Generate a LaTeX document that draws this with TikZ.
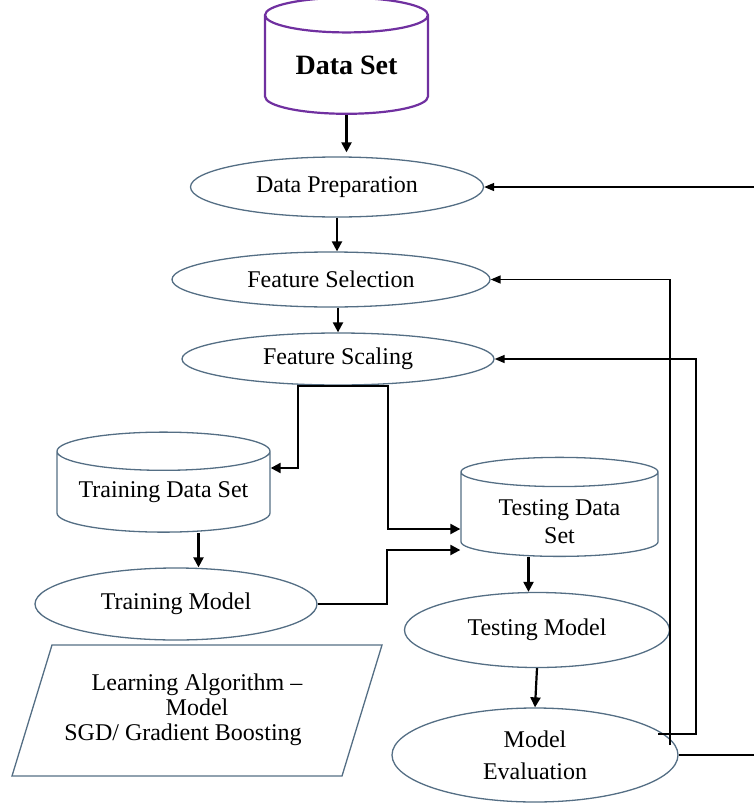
\documentclass[tikz,border=0pt]{standalone}
\usepackage{fontspec}
\setmainfont{Liberation Serif}
\usetikzlibrary{arrows.meta,positioning,calc,shapes.geometric}

\definecolor{dsviolet}{RGB}{112,48,160}
\definecolor{shapeedge}{RGB}{84,110,132}

\tikzset{
    stage/.style={ellipse, draw=shapeedge, line width=1.3pt, inner sep=0pt,
        font=\fontsize{24}{25}\selectfont, align=center},
    store/.style={cylinder, shape border rotate=90, draw=shapeedge, line width=1.3pt,
        inner sep=0pt, font=\fontsize{24}{25}\selectfont, align=center},
    mainarrow/.style={-{Triangle[length=10pt,width=10pt]}, line width=2.2pt},
    backarrow/.style={-{Triangle[length=10pt,width=8pt]}, line width=1.4pt},
}

\begin{document}
\begin{tikzpicture}[x=1pt, y=-1pt]
    \useasboundingbox (0,0) rectangle (754,803);

    % Data
    \node[store, draw=dsviolet, line width=2.2pt, minimum width=163pt, minimum height=116pt,
        aspect=0.34, font=\fontsize{28}{30}\selectfont\bfseries] (dataset) at (346.5,65) {Data Set};

    % Preprocessing
    \node[stage, minimum width=293pt, minimum height=60pt] (prep) at (337,187) {Data Preparation};
    \node[stage, minimum width=318pt, minimum height=55pt] (fsel) at (331,279.5) {Feature Selection};
    \node[stage, minimum width=312pt, minimum height=52pt] (fscal) at (338,359) {Feature Scaling};

    % Split
    \node[store, minimum width=213pt, minimum height=100pt, aspect=0.225] (trainds) at (163.5,492) {Training Data Set};
    \node[store, minimum width=197pt, minimum height=99pt, aspect=0.24,
        font=\fontsize{24}{28}\selectfont] (testds) at (559.5,514.5)
        {\raisebox{-16pt}[0pt][0pt]{\begin{tabular}{@{}c@{}}Testing Data\\Set\end{tabular}}};

    % Models
    \node[stage, minimum width=282pt, minimum height=72pt] (trainm) at (176,604) {Training Model};
    \node[stage, minimum width=265pt, minimum height=75pt] (testm) at (537,630) {Testing Model};
    \node[stage, minimum width=286pt, minimum height=94pt,
        font=\fontsize{24}{32}\selectfont] (meval) at (535,755) {Model\\Evaluation};

    % Algorithm
    \draw[draw=shapeedge, line width=1.3pt] (52,645) -- (382,645) -- (342,776) -- (12,776) -- cycle;
    \node[font=\fontsize{24}{25}\selectfont, align=center] (learnalg) at (197,710)
        {Learning Algorithm –\\Model\\SGD/ Gradient Boosting\hspace*{28pt}};

    % Forward flow
    \draw[mainarrow, shorten >=4pt] (dataset.south) -- (dataset.south |- prep.north);
    \draw[mainarrow] (prep.south) -- (prep.south |- fsel.north);
    \draw[mainarrow] (fscal.north |- fsel.south) -- (fscal.north);

    \coordinate (lsplit) at (298,468);
    \coordinate (rsplit) at (388,529);
    \draw[mainarrow] (fscal.south) -| (lsplit) -- (lsplit -| trainds.east);
    \draw[mainarrow] (fscal.south) -| (rsplit) -- (rsplit -| testds.west);

    \draw[mainarrow] ([xshift=35pt]trainds.south) -- ([xshift=35pt]trainds.south |- trainm.north);
    \coordinate (tjoin) at (387,550);
    \draw[mainarrow] (trainm.east) -| (tjoin) -- (tjoin -| testds.west);

    \draw[mainarrow] ([xshift=-31pt]testds.south) -- ([xshift=-31pt]testds.south |- testm.north);
    \draw[mainarrow] (testm.south) -- (meval.north);

    % Feedback
    \coordinate (fbsel) at (670,745);
    \draw[backarrow] (fbsel) |- (fsel.east);
    \coordinate (fbscal) at (658,734);
    \coordinate (fbscalc) at (696,734);
    \draw[backarrow] (fbscal) -- (fbscalc) |- (fscal.east);
    \coordinate (rim) at (762,0);
    \draw[backarrow] (meval.east) -- (meval.east -| rim) |- (prep.east);
\end{tikzpicture}
\end{document}
